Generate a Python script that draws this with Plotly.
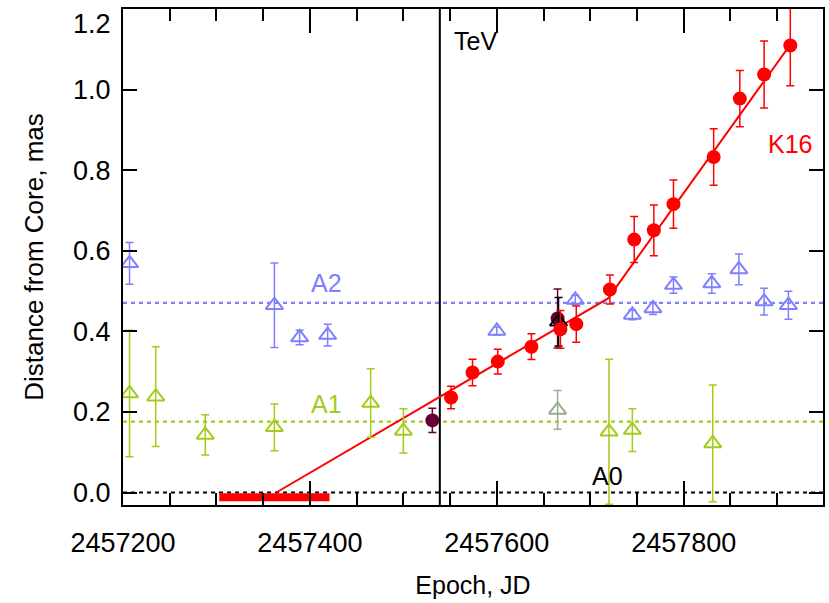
import plotly.graph_objects as go

# ---------------- data ----------------
a2_jd = [2457207, 2457362, 2457389, 2457419, 2457600, 2457684, 2457745, 2457767, 2457789, 2457830, 2457859, 2457886, 2457912]
a2_r = [0.569, 0.465, 0.385, 0.391, 0.401, 0.478, 0.441, 0.457, 0.515, 0.519, 0.554, 0.474, 0.465]
a2_err = [0.052, 0.105, 0.018, 0.027, 0.010, 0.012, 0.012, 0.015, 0.020, 0.024, 0.038, 0.033, 0.035]

a1_jd = [2457207, 2457235, 2457288, 2457362, 2457465, 2457500, 2457720, 2457745, 2457831]
a1_r = [0.246, 0.238, 0.143, 0.162, 0.222, 0.153, 0.151, 0.155, 0.122]
a1_err = [0.157, 0.124, 0.050, 0.058, 0.085, 0.055, 0.180, 0.053, 0.145]

a1b_jd = [2457665]
a1b_r = [0.205]
a1b_err = [0.048]

k16_jd = [2457551, 2457574, 2457601, 2457637, 2457668, 2457685, 2457721, 2457747, 2457768, 2457789, 2457832, 2457860, 2457886, 2457914]
k16_r = [0.236, 0.298, 0.325, 0.362, 0.405, 0.418, 0.504, 0.628, 0.651, 0.716, 0.833, 0.978, 1.038, 1.110]
k16_err = [0.028, 0.033, 0.031, 0.032, 0.047, 0.045, 0.036, 0.057, 0.063, 0.060, 0.070, 0.070, 0.083, 0.100]

dark_jd = [2457531, 2457665]
dark_r = [0.179, 0.432]
dark_err = [0.030, 0.073]

blk_jd = [2457666]
blk_r = [0.424]
blk_err = [0.060]

fit_jd = [2457364, 2457719, 2457915]
fit_r = [0.0, 0.482, 1.115]

eject_jd = [2457303, 2457421]
eject_r = [-0.012, -0.012]

a0_mean = 0.0
a1_mean = 0.176
a2_mean = 0.471
tev_jd = 2457539

x_range = [2457200, 2457949]
y_range = [-0.031, 1.2005]
x_ticks = [2457200, 2457400, 2457600, 2457800]
x_labels = ["2457200", "2457400", "2457600", "2457800"]
x_minor_step = 50
y_ticks = [0.0, 0.2, 0.4, 0.6, 0.8, 1.0]
y_labels = ["0.0", "0.2", "0.4", "0.6", "0.8", "1.0"]
y_top_tick = 1.2
y_top_label = "1.2"

# ---------------- style ----------------
C_A2 = "#7f7fff"
C_A1 = "#a2cc1a"
C_A1B = "#9aab8f"
C_K16 = "#ff0000"
C_DARK = "#660033"
FONT = "Liberation Sans, Arial, sans-serif"
BLACK = "#000000"

fig = go.Figure()

for val, col in [(a0_mean, BLACK), (a1_mean, C_A1), (a2_mean, C_A2)]:
    fig.add_trace(go.Scatter(x=x_range, y=[val, val], mode="lines", showlegend=False,
                             hoverinfo="skip",
                             line=dict(color=col, width=2.2, dash="4px,4px")))

fig.add_trace(go.Scatter(x=[tev_jd, tev_jd], y=y_range, mode="lines", showlegend=False,
                         hoverinfo="skip", line=dict(color=BLACK, width=2)))

fig.add_trace(go.Scatter(x=fit_jd, y=fit_r, mode="lines",
                         line=dict(color=C_K16, width=2), showlegend=False))
fig.add_trace(go.Scatter(x=eject_jd, y=eject_r, mode="lines",
                         line=dict(color=C_K16, width=8), showlegend=False))

def tri(x, y, e, col):
    return go.Scatter(x=x, y=y, mode="markers", showlegend=False,
                      marker=dict(symbol="triangle-up-open", size=15, color=col,
                                  line=dict(color=col, width=2)),
                      error_y=dict(type="data", array=e, color=col, thickness=1.5, width=4))

def circ(x, y, e, col):
    return go.Scatter(x=x, y=y, mode="markers", showlegend=False,
                      marker=dict(symbol="circle", size=14, color=col),
                      error_y=dict(type="data", array=e, color=col, thickness=1.5, width=4))

fig.add_trace(tri(a1_jd, a1_r, a1_err, C_A1))
fig.add_trace(tri(a1b_jd, a1b_r, a1b_err, C_A1B))
fig.add_trace(tri(a2_jd, a2_r, a2_err, C_A2))
fig.add_trace(circ(dark_jd, dark_r, dark_err, C_DARK))
fig.add_trace(tri(blk_jd, blk_r, blk_err, BLACK))
fig.add_trace(circ(k16_jd, k16_r, k16_err, C_K16))

ann = [
    (2457418, 0.52, "A2", C_A2),
    (2457418, 0.22, "A1", C_A1),
    (2457914, 0.866, "K16", C_K16),
    (2457718, 0.042, "A0", BLACK),
    (2457577, 1.122, "TeV", BLACK),
]
for x, y, t, c in ann:
    fig.add_annotation(x=x, y=y, text=t, showarrow=False,
                       font=dict(family=FONT, size=25, color=c))

fig.add_annotation(xref="paper", x=0, y=y_top_tick, text=y_top_label, showarrow=False,
                   xanchor="right", xshift=-10, yshift=-15,
                   font=dict(family=FONT, size=27, color=BLACK))

axis_common = dict(showgrid=False, zeroline=False, showline=True, linecolor=BLACK,
                   linewidth=2, mirror="ticks", ticks="inside", tickcolor=BLACK,
                   tickwidth=2, layer="above traces",
                   tickfont=dict(family=FONT, size=27, color=BLACK))

fig.update_layout(
    template="none",
    width=829, height=603, margin=dict(l=123, r=6, t=9, b=98, autoexpand=False),
    plot_bgcolor="#ffffff", paper_bgcolor="#ffffff", showlegend=False,
    xaxis=dict(range=x_range, tickmode="array", tickvals=x_ticks, ticktext=x_labels,
               ticklen=24, ticklabelstandoff=13,
               minor=dict(dtick=x_minor_step, tick0=x_ticks[0], ticks="inside", ticklen=12,
                          tickwidth=2, tickcolor=BLACK, showgrid=False),
               title=dict(text="Epoch, JD", font=dict(family=FONT, size=25, color=BLACK),
                          standoff=19),
               **axis_common),
    yaxis=dict(range=y_range, tickmode="array", tickvals=y_ticks + [y_top_tick],
               ticktext=y_labels + [""], ticklen=14, ticklabelstandoff=5,
               title=dict(text="Distance from Core, mas",
                          font=dict(family=FONT, size=26, color=BLACK), standoff=22),
               **axis_common),
)

fig.write_html("out.html")
